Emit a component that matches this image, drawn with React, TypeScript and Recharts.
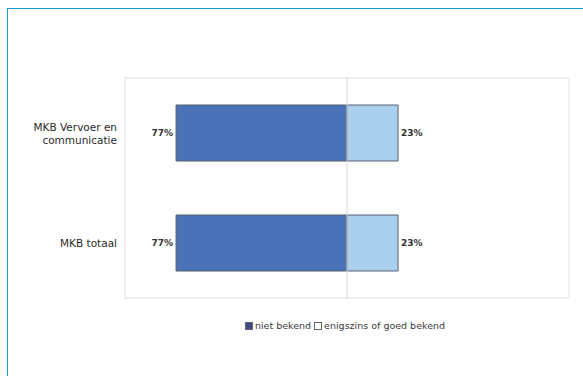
import React from "react";
import {
  BarChart,
  Bar,
  XAxis,
  YAxis,
  ReferenceLine,
  ReferenceArea,
  LabelList,
  Legend,
} from "recharts";

const categories = ["MKB Vervoer en communicatie", "MKB totaal"];
const nietBekend = [77, 77];
const goedBekend = [23, 23];
const seriesNames = ["niet bekend", "enigszins of goed bekend"];

const DARK = "#4a72b6";
const LIGHT = "#a9cfec";
const EDGE = "#55606f";
const FONT = "'DejaVu Sans', Verdana, sans-serif";

// niet bekend goes to the left of zero
const data = categories.map((name, i) => ({
  name,
  neg: -nietBekend[i],
  pos: goedBekend[i],
}));

const CategoryTick = (props: any) => {
  const { x, y, payload } = props;
  const label: string = payload.value;
  const lines =
    label === "MKB Vervoer en communicatie"
      ? ["MKB Vervoer en", "communicatie"]
      : [label];
  const start = y - ((lines.length - 1) * 13) / 2;
  return (
    <text
      x={x}
      y={start}
      textAnchor="end"
      fill="#2a2a2a"
      fontSize={10.5}
      fontFamily={FONT}
      dominantBaseline="central"
    >
      {lines.map((l, i) => (
        <tspan key={i} x={x} y={start + i * 13}>
          {l}
        </tspan>
      ))}
    </text>
  );
};

const valueLabel = (side: "left" | "right") => (props: any) => {
  const { x, y, width, height, value } = props;
  const left = Math.min(x, x + width);
  const right = Math.max(x, x + width);
  return (
    <text
      x={side === "left" ? left - 3 : right + 3}
      y={y + height / 2}
      textAnchor={side === "left" ? "end" : "start"}
      dominantBaseline="central"
      fill="#333"
      fontSize={9}
      fontWeight="bold"
      fontFamily={FONT}
    >
      {Math.abs(value)}%
    </text>
  );
};

const LegendContent = () => (
  <div
    style={{
      display: "flex",
      justifyContent: "center",
      fontFamily: FONT,
      fontSize: 9.5,
      color: "#3a3a3a",
      paddingLeft: 110,
    }}
  >
    {seriesNames.map((n, i) => (
      <span key={n} style={{ display: "flex", alignItems: "center", marginRight: 3 }}>
        <span
          style={{
            width: 6,
            height: 6,
            background: i === 0 ? "#3f4a80" : "#fff",
            border: "1px solid #666",
            marginRight: 2,
            display: "inline-block",
          }}
        />
        {n}
      </span>
    ))}
  </div>
);

export default function App() {
  return (
    <div style={{ position: "absolute", left: 0, top: 0, width: 583, height: 376, background: "#fff" }}>
      <div
        style={{
          position: "absolute",
          left: 7,
          top: 8,
          width: 576,
          height: 368,
          borderTop: "1.5px solid #1d9ad6",
          borderLeft: "1.5px solid #1d9ad6",
        }}
      />
      <BarChart
        width={583}
        height={376}
        data={data}
        layout="vertical"
        stackOffset="sign"
        margin={{ top: 78, right: 14, bottom: 78, left: 0 }}
        style={{ position: "absolute", left: 0, top: 0 }}
      >
        <XAxis type="number" domain={[-100, 100]} hide />
        <YAxis
          type="category"
          dataKey="name"
          width={125}
          axisLine={false}
          tickLine={false}
          tickSize={0}
          tickMargin={8}
          tick={<CategoryTick />}
        />
        <ReferenceArea x1={-100} x2={100} fill="none" stroke="#ebebeb" strokeWidth={1.5} ifOverflow="extendDomain" />
        <ReferenceLine x={0} stroke="#d6d6d6" />
        <Bar dataKey="neg" name={seriesNames[0]} stackId="a" fill={DARK} stroke={EDGE} barSize={56} isAnimationActive={false}>
          <LabelList dataKey="neg" content={valueLabel("left")} />
        </Bar>
        <Bar dataKey="pos" name={seriesNames[1]} stackId="a" fill={LIGHT} stroke={EDGE} barSize={56} isAnimationActive={false}>
          <LabelList dataKey="pos" content={valueLabel("right")} />
        </Bar>
        <Legend
          layout="vertical"
          verticalAlign="middle"
          align="center"
          content={<LegendContent />}
          wrapperStyle={{ top: 320, left: 0, width: 583 }}
        />
      </BarChart>
    </div>
  );
}
